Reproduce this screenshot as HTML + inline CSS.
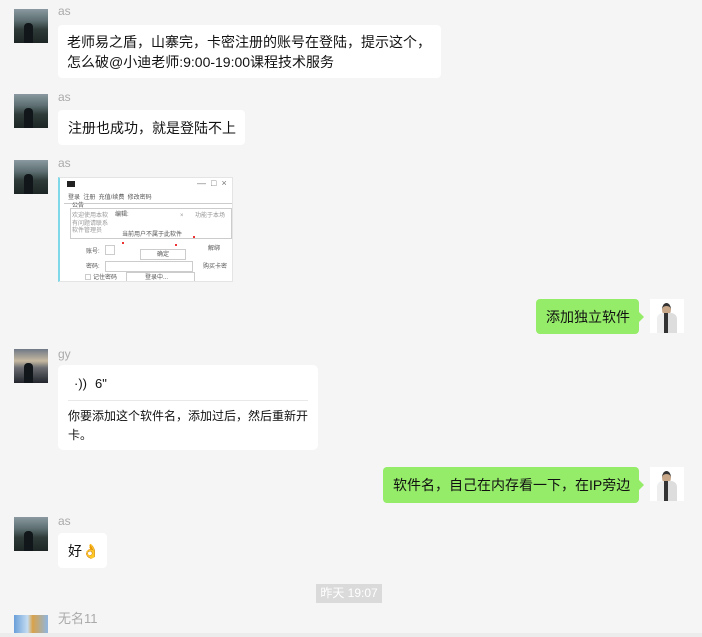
<!DOCTYPE html>
<html><head><meta charset="utf-8"><style>
*{margin:0;padding:0;box-sizing:border-box}
body{width:702px;height:637px;background:#f5f5f5;position:relative;overflow:hidden;font-family:"Liberation Sans","Noto Sans CJK SC",sans-serif;color:#111}
.a{position:absolute}
.av{position:absolute;width:34px;height:34px;background:linear-gradient(180deg,#8a9aa0 0%,#5c6d70 35%,#2e3b38 60%,#1d2624 100%)}
.av:after{content:"";position:absolute;left:10px;top:14px;width:9px;height:20px;background:#10161a;border-radius:4px 4px 0 0}
.nm{position:absolute;font-size:12px;color:#aaa;line-height:14px}
.b{position:absolute;background:#fff;border-radius:4px;font-size:14px;line-height:20px;padding:8px 10px;white-space:nowrap}
.g{background:#95ec69}
.g:after{content:"";position:absolute;right:-5px;top:13px;border:5px solid transparent;border-left-color:#95ec69;border-right:0}
.me{position:absolute;width:34px;height:34px;background:#fff}
.me:before{content:"";position:absolute;left:12px;top:4px;width:9px;height:10px;border-radius:50%;background:#c9a88a;border-top:3px solid #333}
.me:after{content:"";position:absolute;left:7px;top:14px;width:20px;height:20px;background:linear-gradient(90deg,#eee 0 35%,#333 35% 55%,#ddd 55%);border-radius:6px 6px 0 0}
.t{position:absolute;font-size:6px;color:#555;white-space:nowrap;line-height:7px}
.bx{position:absolute;border:1px solid #ccc;background:#fff}
</style></head><body>

<div class="av" style="left:14px;top:9px"></div>
<div class="nm" style="left:58px;top:4px">as</div>
<div class="b" style="left:58px;top:25px;width:383px;height:53px;padding:7px 9px">老师易之盾，山寨完，卡密注册的账号在登陆，提示这个，<br>怎么破@小迪老师:9:00-19:00课程技术服务</div>

<div class="av" style="left:14px;top:94px"></div>
<div class="nm" style="left:58px;top:90px">as</div>
<div class="b" style="left:58px;top:110px;width:187px;height:35px">注册也成功，就是登陆不上</div>

<div class="av" style="left:14px;top:160px"></div>
<div class="nm" style="left:58px;top:156px">as</div>
<div class="a" style="left:58px;top:177px;width:175px;height:105px;background:#fff;border:1px solid #e4e4e4;border-left:2px solid #7fd8e8;overflow:hidden">
 <div class="a" style="left:7px;top:3px;width:8px;height:6px;background:#222"></div>
 <div class="t" style="left:137px;top:2px;font-size:9px;color:#777">—&nbsp;&nbsp;□&nbsp;&nbsp;×</div>
 <div class="t" style="left:8px;top:17px">登录 &nbsp;注册 &nbsp;充值/续费 &nbsp;修改密码</div>
 <div class="a" style="left:4px;top:25px;width:168px;height:1px;background:#ccc"></div>
 <div class="t" style="left:12px;top:25px">公告</div>
 <div class="bx" style="left:10px;top:30px;width:162px;height:31px"></div>
 <div class="t" style="left:12px;top:35px;color:#999">欢迎使用本软</div>
 <div class="t" style="left:55px;top:34px">编辑:</div>
 <div class="t" style="left:120px;top:35px;color:#999">×</div>
 <div class="t" style="left:135px;top:35px;color:#999">功能于本场</div>
 <div class="t" style="left:12px;top:43px;color:#999">有问题请联系<br>软件管理员</div>
 <div class="t" style="left:62px;top:54px">当前用户不属于此软件</div>
 <div class="a" style="left:62px;top:64px;width:2px;height:2px;background:#e33"></div>
 <div class="a" style="left:115px;top:66px;width:2px;height:2px;background:#e33"></div>
 <div class="a" style="left:133px;top:58px;width:2px;height:2px;background:#e33"></div>
 <div class="t" style="left:26px;top:71px">账号:</div>
 <div class="bx" style="left:45px;top:67px;width:10px;height:10px"></div>
 <div class="bx" style="left:80px;top:71px;width:46px;height:11px"></div>
 <div class="t" style="left:97px;top:74px">确定</div>
 <div class="t" style="left:148px;top:68px">解绑</div>
 <div class="t" style="left:26px;top:86px">密码:</div>
 <div class="bx" style="left:45px;top:83px;width:88px;height:11px"></div>
 <div class="t" style="left:143px;top:86px">购买卡密</div>
 <div class="bx" style="left:25px;top:96px;width:6px;height:6px"></div>
 <div class="t" style="left:33px;top:97px">记住密码</div>
 <div class="bx" style="left:66px;top:94px;width:69px;height:11px"></div>
 <div class="t" style="left:85px;top:97px">登录中...</div>
</div>

<div class="b g" style="left:536px;top:299px;width:103px;height:35px">添加独立软件</div>
<div class="me" style="left:650px;top:299px"></div>

<div class="av" style="left:14px;top:349px;background:linear-gradient(180deg,#6f7886 0%,#c7b9a0 35%,#6b6d72 55%,#22262c 100%)"></div>
<div class="nm" style="left:58px;top:347px">gy</div>
<div class="a" style="left:58px;top:365px;width:260px;height:85px;background:#fff;border-radius:5px">
 <div class="a" style="left:16px;top:11px;font-size:13px;line-height:16px">·)) </div>
 <div class="a" style="left:37px;top:11px;font-size:13px;line-height:16px">6"</div>
 <div class="a" style="left:10px;top:35px;width:240px;height:1px;background:#e8e8e8"></div>
 <div class="a" style="left:10px;top:42px;width:242px;font-size:12px;line-height:19px">你要添加这个软件名，添加过后，然后重新开<br>卡。</div>
</div>

<div class="b g" style="left:383px;top:467px;width:256px;height:36px">软件名，自己在内存看一下，在IP旁边</div>
<div class="me" style="left:650px;top:467px"></div>

<div class="av" style="left:14px;top:517px"></div>
<div class="nm" style="left:58px;top:514px">as</div>
<div class="b" style="left:58px;top:533px;width:49px;height:35px">好<span style="color:#e8a800">👌</span></div>

<div class="a" style="left:316px;top:584px;width:66px;height:19px;background:#dadada;color:#fff;font-size:12px;line-height:19px;text-align:center">昨天 19:07</div>

<div class="a" style="left:14px;top:615px;width:34px;height:18px;background:linear-gradient(90deg,#6a9fd8,#c4dcf2 40%,#d9a24a 55%,#8fb6e0)"></div>
<div class="nm" style="left:58px;top:611px;font-size:13px;line-height:16px">无名11</div>
<div class="a" style="left:0;top:633px;width:702px;height:4px;background:#ececec"></div>
</body></html>
